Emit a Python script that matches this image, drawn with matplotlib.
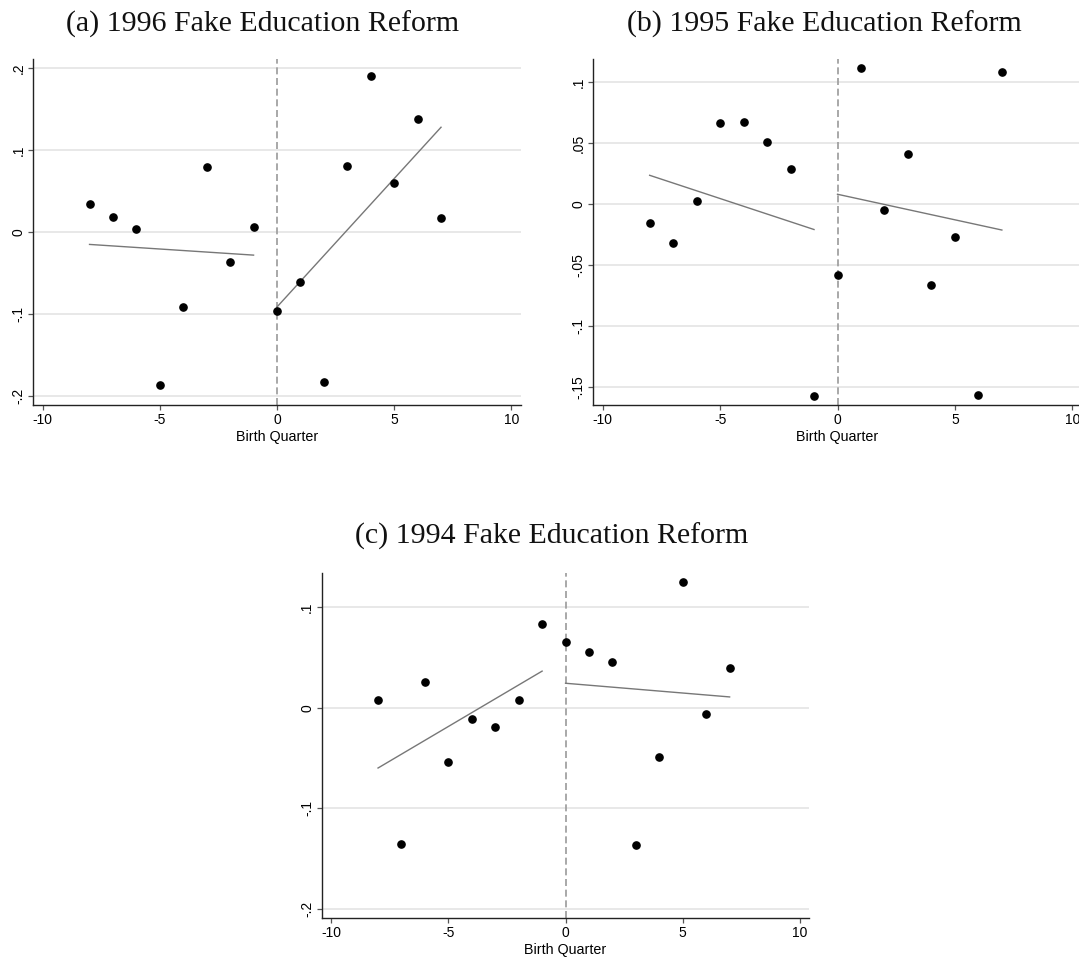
import numpy as np
import matplotlib
matplotlib.use("Agg")
import matplotlib.pyplot as plt

# Birth quarter relative to the (placebo) reform cutoff
quarters = np.arange(-8, 8)

# Binned outcome means by birth quarter
y_1996 = [0.0346, 0.0187, 0.0037, -0.1860, -0.0919, 0.0797, -0.0366, 0.0057,
          -0.0967, -0.0614, -0.1825, 0.0809, 0.1907, 0.0606, 0.1386, 0.0167]
y_1995 = [-0.0161, -0.0325, 0.0022, 0.0661, 0.0672, 0.0511, 0.0290, -0.1574,
          -0.0582, 0.1112, -0.0049, 0.0407, -0.0669, -0.0273, -0.1568, 0.1079]
y_1994 = [0.0076, -0.1351, 0.0259, -0.0534, -0.0106, -0.0189, 0.0080, 0.0836,
          0.0657, 0.0558, 0.0455, -0.1361, -0.0488, 0.1255, -0.0056, 0.0395]

titles = ["(a) 1996 Fake Education Reform",
          "(b) 1995 Fake Education Reform",
          "(c) 1994 Fake Education Reform"]

xticks = [-10, -5, 0, 5, 10]
xticklabels = ["-10", "-5", "0", "5", "10"]

yticks_1996 = [-0.2, -0.1, 0.0, 0.1, 0.2]
ylabels_1996 = ["-.2", "-.1", "0", ".1", ".2"]
yticks_1995 = [-0.15, -0.10, -0.05, 0.0, 0.05, 0.10]
ylabels_1995 = ["-.15", "-.1", "-.05", "0", ".05", ".1"]
yticks_1994 = [-0.2, -0.1, 0.0, 0.1]
ylabels_1994 = ["-.2", "-.1", "0", ".1"]

W, H = 1079, 958
fig = plt.figure(figsize=(W / 100, H / 100), dpi=100)
fig.patch.set_facecolor("white")

SANS = ["Liberation Sans", "DejaVu Sans"]
SERIF = ["Liberation Serif", "DejaVu Serif"]
TICK_FS = 10


def box(left, top, right, bottom):
    return [left / W, 1 - bottom / H, (right - left) / W, (bottom - top) / H]


def panel(rect, y, ylim, yticks, ylabels):
    ax = fig.add_axes(rect)
    x = quarters
    y = np.asarray(y)
    for v in yticks:
        ax.axhline(v, color="#e6e6e6", lw=1.3, zorder=0)
    ax.axvline(0, color="#9a9a9a", lw=1.2, ls=(0, (4.2, 2.2)), zorder=1)
    for mask in (x < 0, x >= 0):
        b, a = np.polyfit(x[mask], y[mask], 1)
        xs = np.array([x[mask].min(), x[mask].max()])
        ax.plot(xs, a + b * xs, color="#777777", lw=1.0, zorder=2)
    ax.plot(x, y, "o", color="black", ms=5.2, zorder=3)
    ax.set_xlim(-10.4, 10.4)
    ax.set_ylim(*ylim)
    ax.set_xticks(xticks)
    ax.set_xticklabels(xticklabels, family=SANS, fontsize=TICK_FS)
    ax.set_yticks(yticks)
    ax.set_yticklabels(ylabels, family=SANS, fontsize=TICK_FS, rotation=90,
                       va="center")
    ax.tick_params(axis="both", length=3.6, width=0.9, color="#555555",
                   pad=2.5)
    ax.tick_params(axis="y", pad=2.0)
    for s in ("top", "right"):
        ax.spines[s].set_visible(False)
    for s in ("left", "bottom"):
        ax.spines[s].set_color("#222222")
        ax.spines[s].set_linewidth(1.0)
    ax.set_xlabel("Birth Quarter", family=SANS, fontsize=TICK_FS + 0.3,
                  labelpad=2)
    ax.set_facecolor("white")
    return ax


panel(box(33.3, 59.3, 520.7, 405), y_1996, (-0.211, 0.211),
      yticks_1996, ylabels_1996)
panel(box(593.3, 59.3, 1081.7, 405), y_1995, (-0.165, 0.1186),
      yticks_1995, ylabels_1995)
panel(box(321.8, 572.7, 809.3, 917.7), y_1994, (-0.2086, 0.1344),
      yticks_1994, ylabels_1994)

for (cx, by), t in zip([(263, 31.7), (824, 31.7), (552, 544)], titles):
    fig.text(cx / W, 1 - by / H, t, family=SERIF, fontsize=21.5,
             ha="center", va="baseline", color="#111111")

fig.savefig("out.png", dpi=100, facecolor="white")
